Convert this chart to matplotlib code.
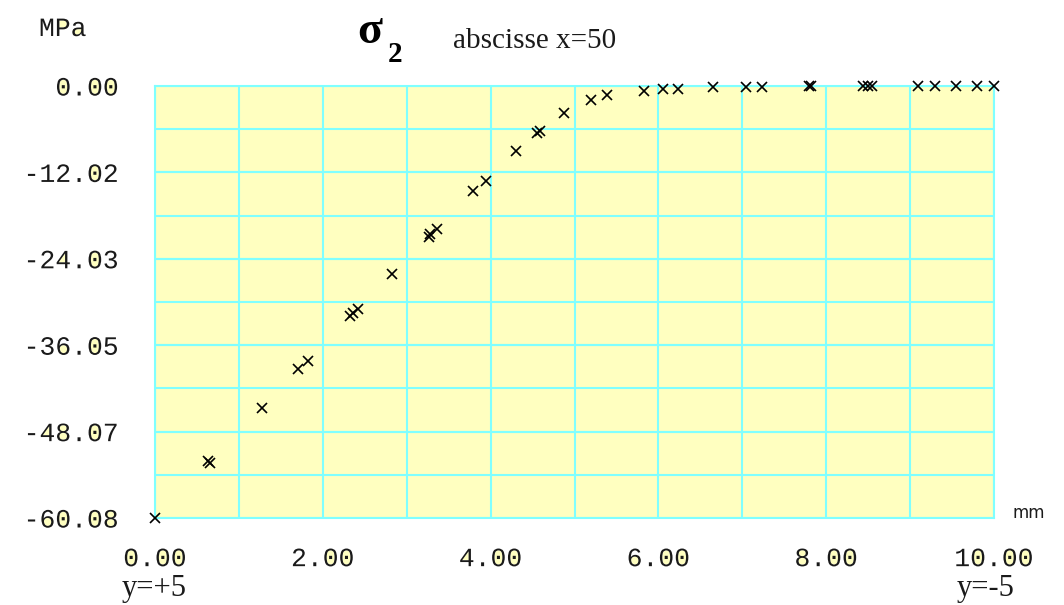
import numpy as np
import matplotlib
matplotlib.use("Agg")
import matplotlib.pyplot as plt
from matplotlib.patheffects import AbstractPathEffect
from matplotlib.path import Path
from matplotlib.transforms import Affine2D
from matplotlib.colors import to_rgba

# sigma_2 stress (MPa) along the section, abscissa x = 50
pos_mm = [0.00, 0.63, 0.65, 1.27, 1.71, 1.82, 2.32, 2.36, 2.42, 2.83,
          3.26, 3.28, 3.36, 3.79, 3.94, 4.30, 4.55, 4.59, 4.87, 5.20,
          5.39, 5.83, 6.05, 6.23, 6.65, 7.05, 7.23, 7.79, 7.82, 8.44,
          8.50, 8.54, 9.09, 9.30, 9.55, 9.80, 10.00]
sigma2 = [-60.08, -52.2, -52.5, -44.8, -39.4, -38.2, -32.0, -31.6, -31.0, -26.1,
          -21.0, -20.6, -19.9, -14.6, -13.2, -9.0, -6.6, -6.3, -3.7, -2.0,
          -1.2, -0.7, -0.4, -0.4, -0.2, -0.1, -0.1, 0.0, 0.0, 0.0,
          0.0, 0.0, 0.0, 0.0, 0.0, 0.0, 0.0]

x_tick_vals = [0, 2, 4, 6, 8, 10]
x_tick_labels = ["0.00", "2.00", "4.00", "6.00", "8.00", "10.00"]
y_tick_vals = [0.0, -12.02, -24.03, -36.05, -48.07, -60.08]
y_tick_labels = ["0.00", "-12.02", "-24.03", "-36.05", "-48.07", "-60.08"]

PLOT_BG = "#FFFFC0"
GRID_C = "#80FFFF"
INK = "#1a1a1a"


class CounterFill(AbstractPathEffect):
    """Paints the enclosed counters of glyphs (0, 6, 8, P, a ...) in a colour."""

    def __init__(self, color):
        super().__init__()
        self._rgb = to_rgba(color)

    def draw_path(self, renderer, gc, tpath, affine, rgbFace=None):
        polys = tpath.to_polygons(affine)
        if polys:
            def area(p):
                x, y = p[:, 0], p[:, 1]
                return 0.5 * np.sum(x * np.roll(y, -1) - np.roll(x, -1) * y)
            areas = [area(p) for p in polys]
            main = max(areas, key=abs)
            holes = [p for p, a in zip(polys, areas) if a * main < 0]
            if holes:
                hp = Path.make_compound_path(*[Path(h, closed=True) for h in holes])
                gc0 = renderer.new_gc()
                gc0.copy_properties(gc)
                gc0.set_linewidth(0)
                gc0.set_foreground(self._rgb)
                renderer.draw_path(gc0, hp, Affine2D(), self._rgb)
                gc0.restore()
        renderer.draw_path(gc, tpath, affine, rgbFace)


W, H = 1064, 605
fig = plt.figure(figsize=(W / 100, H / 100), dpi=100)
fig.patch.set_facecolor("white")

L, R, T, B = 155, 994, 86, 518
ax = fig.add_axes([L / W, (H - B) / H, (R - L) / W, (B - T) / H])
ax.set_facecolor(PLOT_BG)
ax.set_xlim(0, 10)
ax.set_ylim(-60.08, 0)

ax.set_xticks(np.arange(0, 10.01, 1.0), minor=True)
ax.set_yticks(np.linspace(0, -60.08, 11), minor=True)
ax.set_xticks(x_tick_vals)
ax.set_xticklabels(x_tick_labels)
ax.set_yticks(y_tick_vals)
ax.set_yticklabels(y_tick_labels)
ax.grid(True, which="both", color=GRID_C, linewidth=1.5)
ax.set_axisbelow(True)
for s in ax.spines.values():
    s.set_color(GRID_C)
    s.set_linewidth(1.5)

mono = "Liberation Mono"
fx = [CounterFill(PLOT_BG)]
ax.tick_params(which="both", length=0)
ax.tick_params(axis="x", pad=21)
ax.tick_params(axis="y", pad=26)
for lab in ax.get_xticklabels() + ax.get_yticklabels():
    lab.set_fontfamily(mono)
    lab.set_fontsize(19)
    lab.set_color(INK)
    lab.set_path_effects(fx)

ax.plot(pos_mm, sigma2, linestyle="none", marker="x", markersize=7,
        markeredgewidth=1.2, color="black", clip_on=False, zorder=5)

# axis units and position markers
fig.text(39 / W, 1 - 36 / H, "MPa", fontfamily=mono, fontsize=19, color=INK,
         va="baseline", ha="left", path_effects=fx)
fig.text(1012 / W, 1 - 518 / H, "mm", fontfamily="DejaVu Sans", fontsize=12,
         color=INK, va="baseline", ha="left")
fig.text(122 / W, 1 - 574 / H, "y=+5", fontfamily="Liberation Serif", fontsize=22,
         color=INK, va="top", ha="left")
fig.text(957 / W, 1 - 574 / H, "y=-5", fontfamily="Liberation Serif", fontsize=22,
         color=INK, va="top", ha="left")

# title
fig.text(357 / W, 1 - 43 / H, "σ", fontfamily="Liberation Serif", fontweight="bold",
         fontsize=33, color="black", va="baseline", ha="left")
fig.text(388 / W, 1 - 62 / H, "2", fontfamily="Liberation Serif", fontweight="bold",
         fontsize=21, color="black", va="baseline", ha="left")
fig.text(453 / W, 1 - 48 / H, "abscisse x=50", fontfamily="Liberation Serif",
         fontsize=21, color=INK, va="baseline", ha="left")

fig.savefig("out.png", dpi=100, facecolor="white")
